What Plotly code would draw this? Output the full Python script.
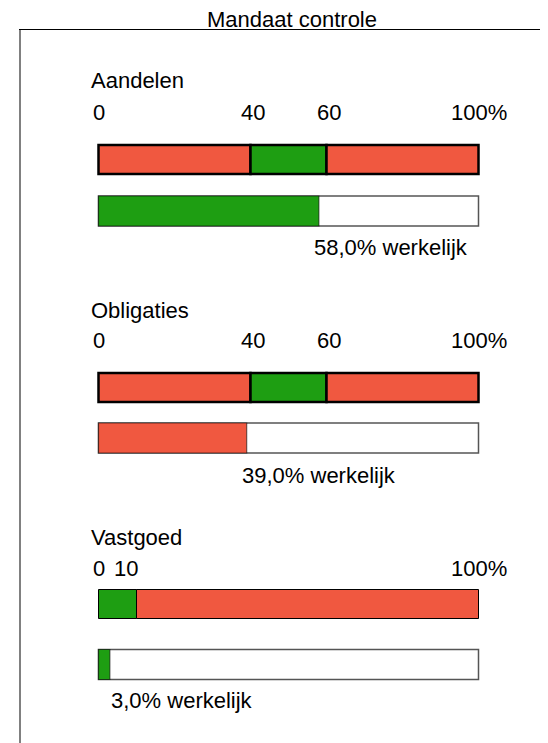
import plotly.graph_objects as go

# ---- data ----
asset_classes = ["Aandelen", "Obligaties", "Vastgoed"]
mandate_min = [40, 40, 0]
mandate_max = [60, 60, 10]
actual_pct = [58.0, 39.0, 3.0]
tick_values = [[0, 40, 60, 100], [0, 40, 60, 100], [0, 10, 100]]
tick_labels = [["0", "40", "60", "100%"], ["0", "40", "60", "100%"], ["0", "10", "100%"]]
title_text = "Mandaat controle"
actual_suffix = "% werkelijk"

# ---- style / layout constants ----
RED = "#F05840"
GREEN = "#1E9E12"
FONT = "Liberation Sans, Arial, sans-serif"
PAGE_OFF = 8                        # page body margin
W_REF, H_REF = 548, 743
L_REF, T_REF = 21, 30
W, H = W_REF - PAGE_OFF, H_REF - PAGE_OFF
L, T = L_REF - PAGE_OFF, T_REF - PAGE_OFF
X0_PX, SCALE = 98.5, 3.8            # reference pixel of value 0, pixels per unit
label_y = [80, 310, 537]
tick_y = [112, 340, 568]
range_y = [159.5, 387.5, 604]
actual_y = [211, 438, 664.5]
text_y = [247, 475, 700.5]
range_line = [2.5, 2.5, 1.0]

fig = go.Figure()
ann = []

for i, name in enumerate(asset_classes):
    lo, hi, act = mandate_min[i], mandate_max[i], actual_pct[i]
    segs = []
    if lo > 0:
        segs.append((0, lo, RED))
    segs.append((lo, hi, GREEN))
    if hi < 100:
        segs.append((hi, 100, RED))
    for a, b, c in segs:
        fig.add_trace(go.Bar(
            orientation="h", y=[range_y[i]], base=[a], x=[b - a], width=[29],
            marker=dict(color=c, line=dict(color="black", width=range_line[i])),
            hoverinfo="skip"))
    # actual bar: background 0-100 then the value
    fig.add_trace(go.Bar(
        orientation="h", y=[actual_y[i]], base=[0], x=[100], width=[30],
        marker=dict(color="white", line=dict(color="#555555", width=1.5)),
        hoverinfo="skip"))
    in_range = lo <= act <= hi
    fig.add_trace(go.Bar(
        orientation="h", y=[actual_y[i]], base=[0], x=[act], width=[30],
        marker=dict(color=GREEN if in_range else RED,
                    line=dict(color="rgba(0,0,0,0.55)", width=1.2)),
        hoverinfo="skip"))

    ann.append(dict(x=0, y=label_y[i], text=name, xanchor="left", yanchor="middle",
                    xshift=-10, showarrow=False, font=dict(size=22)))
    for j, (tv, tl) in enumerate(zip(tick_values[i], tick_labels[i])):
        shift = 0
        if j > 0 and tv - tick_values[i][j - 1] < 15:
            shift = -11
        elif 0 < tv < 100:
            shift = 2
        ann.append(dict(x=tv, y=tick_y[i], text=tl, xanchor="center", yanchor="middle",
                        xshift=shift, showarrow=False, font=dict(size=22)))
    txt = f"{act:.1f}".replace(".", ",") + actual_suffix
    ann.append(dict(x=act + 19, y=text_y[i], text=txt, xanchor="center", yanchor="middle",
                    showarrow=False, font=dict(size=22)))

ann.append(dict(xref="paper", yref="paper", x=0.515, y=1, yshift=11, text=title_text,
                xanchor="center", yanchor="middle", showarrow=False, font=dict(size=22)))

fig.update_layout(
    width=W, height=H, margin=dict(l=L, r=0, t=T, b=0, pad=0),
    paper_bgcolor="white", plot_bgcolor="white",
    barmode="overlay", showlegend=False,
    font=dict(family=FONT, color="black", size=22),
    annotations=ann,
    xaxis=dict(range=[(L_REF - X0_PX) / SCALE, (W_REF - X0_PX) / SCALE], showgrid=False,
               zeroline=False, showticklabels=False, ticks="", side="top",
               showline=True, linecolor="black", linewidth=1, fixedrange=True),
    yaxis=dict(range=[H_REF, T_REF], showgrid=False, zeroline=False, showticklabels=False,
               ticks="", showline=True, linecolor="#808080", linewidth=2, fixedrange=True),
)
fig.write_html("out.html")
